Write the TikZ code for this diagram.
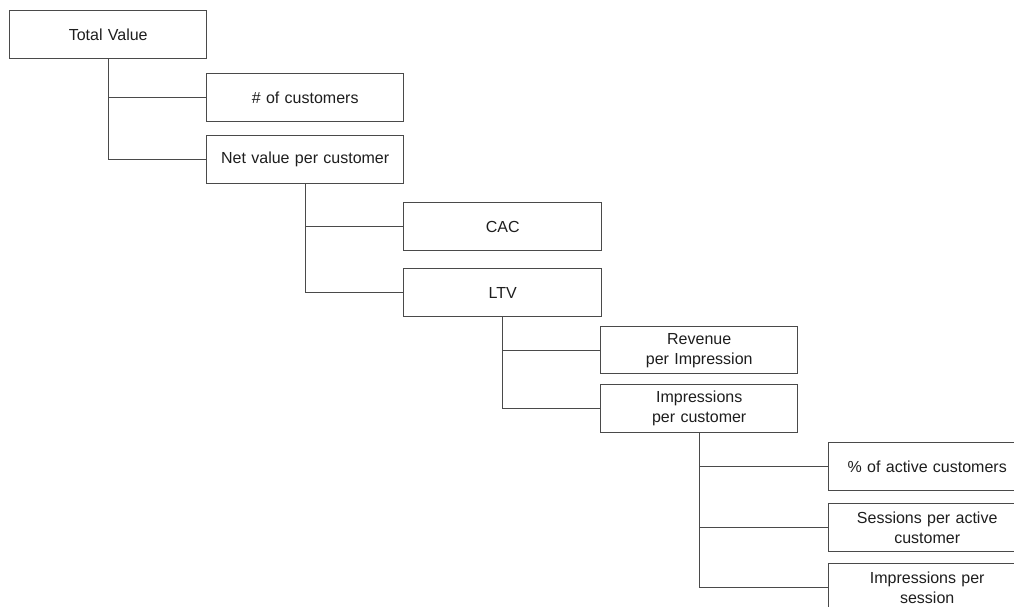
\documentclass[tikz,border=0pt]{standalone}
\usepackage{fontspec}
\setmainfont{Liberation Sans}
\begin{document}
\begin{tikzpicture}[x=1pt,y=-1pt,
  treebox/.style={draw=boxgray, line width=1.4pt, fill=white, anchor=north west,
    minimum width=197pt, minimum height=48pt, inner sep=0pt, text width=190pt,
    align=center, text=txtgray, font=\fontsize{16pt}{20pt}\selectfont},
  link/.style={draw=boxgray, line width=1.4pt}]
\definecolor{boxgray}{HTML}{4A4A4A}
\definecolor{txtgray}{HTML}{1E1E1E}
\clip (0,0) rectangle (1014,606);
\fill[white] (0,0) rectangle (1014,606);
% level 0 and 1
\node[treebox] (tv)  at (9,10)    {Total Value};
\node[treebox] (noc) at (206,73)  {\# of customers};
\node[treebox] (nvc) at (206,135) {Net value per customer};
% level 2
\node[treebox, minimum width=198pt] (cac) at (403,202) {CAC};
\node[treebox, minimum width=198pt] (ltv) at (403,268) {LTV};
% level 3
\node[treebox, minimum height=47pt] (rpi) at (600,326) {Revenue\\per Impression};
\node[treebox] (ipc) at (600,384) {Impressions\\per customer};
% level 4
\node[treebox] (pac) at (828,442) {\% of active customers};
\node[treebox] (spa) at (828,503) {Sessions per active\\customer};
\node[treebox] (ips) at (828,563) {Impressions per\\session};
% connectors
\draw[link] (tv.south)  |- (noc.west);
\draw[link] (tv.south)  |- (nvc.west);
\draw[link] (nvc.south) |- (cac.west);
\draw[link] (nvc.south) |- (ltv.west);
\draw[link] (ltv.south) |- (rpi.west);
\draw[link] (ltv.south) |- (ipc.west);
\draw[link] (ipc.south) |- (pac.west);
\draw[link] (ipc.south) |- (spa.west);
\draw[link] (ipc.south) |- (ips.west);
\end{tikzpicture}
\end{document}
